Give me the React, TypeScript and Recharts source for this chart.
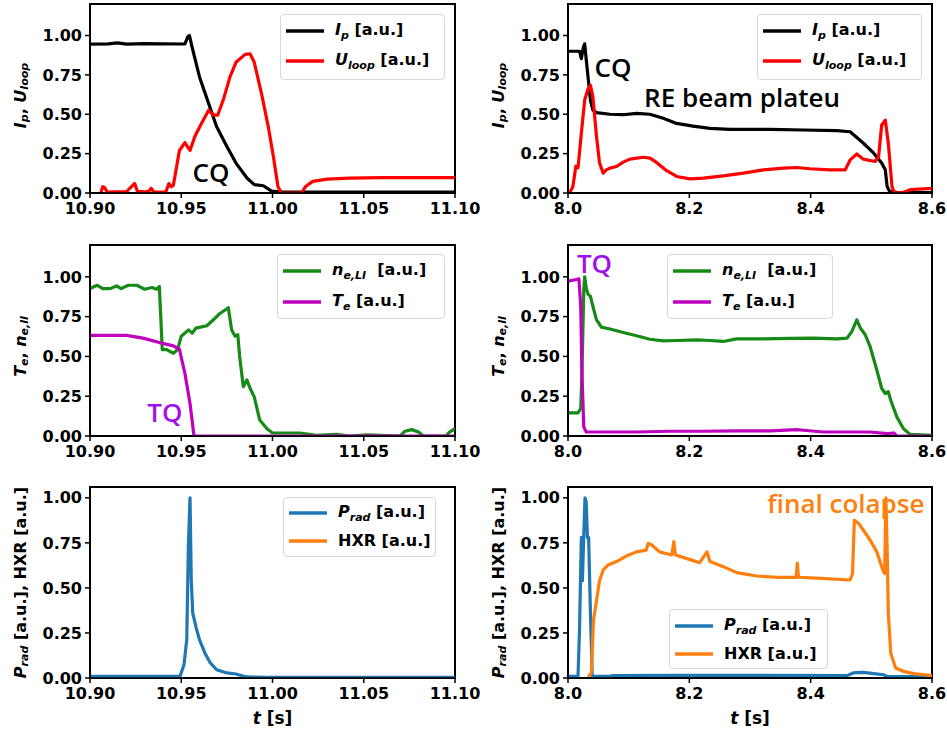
import React from 'react';
import { LineChart, Line, XAxis, YAxis, Legend, ReferenceArea, ReferenceDot } from 'recharts';

// ---------------- data ----------------
// Panel A (left column, t = 10.90 .. 11.10)
const ipT_A = [10.900, 10.910, 10.915, 10.920, 10.930, 10.940, 10.952, 10.9535, 10.9545, 10.9557, 10.960, 10.965, 10.9694, 10.975, 10.980, 10.986, 10.990, 10.995, 10.9995, 11.006, 11.050, 11.100];
const ipV_A = [0.945, 0.947, 0.953, 0.945, 0.948, 0.947, 0.946, 0.99, 1.0, 0.937, 0.737, 0.568, 0.421, 0.295, 0.19, 0.095, 0.053, 0.046, 0.012, 0.005, 0.005, 0.005];
const ulT_A = [10.906, 10.907, 10.908, 10.9095, 10.915, 10.920, 10.9235, 10.9245, 10.926, 10.930, 10.932, 10.9335, 10.935, 10.9415, 10.9432, 10.9445, 10.9457, 10.949, 10.952, 10.9548, 10.9575, 10.961, 10.965, 10.9676, 10.970, 10.973, 10.9767, 10.980, 10.985, 10.9877, 10.990, 10.994, 10.9977, 11.0005, 11.003, 11.005, 11.016, 11.018, 11.022, 11.030, 11.042, 11.060, 11.100];
const ulV_A = [0.005, 0.04, 0.035, 0.005, 0.008, 0.008, 0.05, 0.06, 0.01, 0.008, 0.01, 0.03, 0.005, 0.005, 0.06, 0.04, 0.05, 0.27, 0.32, 0.27, 0.36, 0.44, 0.526, 0.495, 0.495, 0.59, 0.737, 0.83, 0.88, 0.884, 0.83, 0.63, 0.42, 0.23, 0.04, 0, 0, 0.04, 0.074, 0.088, 0.095, 0.097, 0.097];
const neT_A = [10.900, 10.904, 10.907, 10.911, 10.9146, 10.917, 10.921, 10.9256, 10.930, 10.934, 10.9365, 10.938, 10.9396, 10.942, 10.9457, 10.948, 10.950, 10.954, 10.956, 10.958, 10.964, 10.9676, 10.971, 10.9758, 10.9776, 10.9795, 10.981, 10.982, 10.984, 10.986, 10.9877, 10.990, 10.993, 10.997, 11.000, 11.015, 11.024, 11.035, 11.042, 11.052, 11.070, 11.0726, 11.0763, 11.080, 11.0826, 11.095, 11.097, 11.100];
const neV_A = [0.926, 0.947, 0.926, 0.926, 0.943, 0.926, 0.947, 0.947, 0.922, 0.933, 0.922, 0.94, 0.543, 0.543, 0.52, 0.543, 0.627, 0.667, 0.646, 0.678, 0.693, 0.73, 0.768, 0.806, 0.668, 0.627, 0.636, 0.5, 0.31, 0.352, 0.3, 0.246, 0.1, 0.046, 0.019, 0.019, 0.004, 0.01, 0, 0.008, 0, 0.03, 0.04, 0.025, 0, 0, 0.025, 0.046];
const teT_A = [10.900, 10.920, 10.929, 10.938, 10.9457, 10.949, 10.952, 10.9548, 10.957, 11.100];
const teV_A = [0.632, 0.632, 0.615, 0.587, 0.566, 0.545, 0.394, 0.204, 0, 0];
const prT_A = [10.900, 10.9493, 10.9515, 10.953, 10.9539, 10.9548, 10.9555, 10.9563, 10.958, 10.960, 10.963, 10.9657, 10.9694, 10.975, 10.980, 10.9858, 10.997, 11.100];
const prV_A = [0.009, 0.009, 0.074, 0.21, 0.73, 1.0, 0.54, 0.36, 0.286, 0.212, 0.138, 0.087, 0.046, 0.028, 0.022, 0.006, 0.004, 0.004];

// Panel B (right column, t = 8.0 .. 8.6)
const ipT_B = [8.000, 8.010, 8.019, 8.022, 8.025, 8.0275, 8.030, 8.033, 8.037, 8.041, 8.047, 8.069, 8.091, 8.113, 8.135, 8.157, 8.179, 8.206, 8.234, 8.267, 8.333, 8.388, 8.443, 8.465, 8.487, 8.504, 8.517, 8.523, 8.526, 8.530, 8.542, 8.600];
const ipV_B = [0.90, 0.90, 0.90, 0.853, 0.92, 0.947, 0.85, 0.737, 0.59, 0.526, 0.51, 0.50, 0.497, 0.505, 0.50, 0.474, 0.442, 0.425, 0.41, 0.404, 0.404, 0.40, 0.396, 0.389, 0.316, 0.253, 0.19, 0.147, 0.042, 0.01, 0.004, 0.003];
const ulT_B = [8.000, 8.003, 8.008, 8.013, 8.0165, 8.022, 8.0275, 8.033, 8.037, 8.041, 8.047, 8.052, 8.058, 8.063, 8.069, 8.080, 8.091, 8.102, 8.124, 8.135, 8.146, 8.162, 8.179, 8.201, 8.223, 8.256, 8.289, 8.322, 8.355, 8.377, 8.399, 8.432, 8.457, 8.465, 8.476, 8.487, 8.506, 8.512, 8.517, 8.523, 8.528, 8.534, 8.538, 8.553, 8.564, 8.600];
const ulV_B = [0.01, 0.004, 0.04, 0.17, 0.16, 0.38, 0.59, 0.66, 0.684, 0.61, 0.358, 0.19, 0.126, 0.147, 0.158, 0.168, 0.196, 0.215, 0.227, 0.221, 0.194, 0.143, 0.105, 0.09, 0.095, 0.109, 0.126, 0.147, 0.158, 0.162, 0.154, 0.147, 0.147, 0.21, 0.248, 0.215, 0.2, 0.23, 0.43, 0.463, 0.316, 0.042, 0, 0.004, 0.021, 0.03];
const neT_B = [8.000, 8.0165, 8.021, 8.023, 8.026, 8.0275, 8.030, 8.033, 8.037, 8.041, 8.047, 8.055, 8.069, 8.091, 8.113, 8.135, 8.157, 8.179, 8.212, 8.234, 8.256, 8.278, 8.322, 8.366, 8.405, 8.443, 8.460, 8.468, 8.476, 8.482, 8.490, 8.498, 8.509, 8.517, 8.523, 8.528, 8.532, 8.542, 8.553, 8.564, 8.600];
const neV_B = [0.145, 0.145, 0.173, 0.394, 0.92, 1.0, 0.93, 0.89, 0.878, 0.815, 0.73, 0.684, 0.672, 0.65, 0.63, 0.608, 0.598, 0.6, 0.604, 0.6, 0.594, 0.61, 0.61, 0.613, 0.615, 0.61, 0.615, 0.657, 0.73, 0.678, 0.636, 0.562, 0.415, 0.3, 0.267, 0.278, 0.225, 0.12, 0.046, 0.01, 0.004];
const teT_B = [8.000, 8.014, 8.018, 8.021, 8.023, 8.026, 8.030, 8.058, 8.113, 8.168, 8.223, 8.278, 8.333, 8.377, 8.388, 8.421, 8.498, 8.526, 8.537, 8.542, 8.600];
const teV_B = [0.973, 0.983, 0.987, 0.815, 0.394, 0.057, 0.025, 0.025, 0.025, 0.03, 0.03, 0.032, 0.032, 0.04, 0.036, 0.025, 0.025, 0.015, 0.019, 0, 0];
const prT_B = [8.000, 8.0165, 8.019, 8.022, 8.0237, 8.026, 8.028, 8.030, 8.032, 8.034, 8.037, 8.040, 8.069, 8.074, 8.168, 8.333, 8.460, 8.470, 8.487, 8.504, 8.520, 8.526, 8.600];
const prV_B = [0.009, 0.009, 0.27, 0.78, 0.54, 0.79, 1.0, 0.98, 0.78, 0.78, 0.36, 0.009, 0.009, 0.013, 0.015, 0.015, 0.013, 0.028, 0.031, 0.024, 0.018, 0.009, 0.006];
const hxT_B = [8.033, 8.0385, 8.042, 8.047, 8.052, 8.058, 8.066, 8.080, 8.096, 8.113, 8.129, 8.132, 8.138, 8.151, 8.171, 8.1745, 8.177, 8.195, 8.217, 8.229, 8.234, 8.256, 8.278, 8.311, 8.344, 8.376, 8.378, 8.380, 8.410, 8.443, 8.465, 8.469, 8.472, 8.479, 8.487, 8.498, 8.509, 8.520, 8.522, 8.524, 8.526, 8.528, 8.532, 8.540, 8.553, 8.570, 8.600];
const hxV_B = [0.006, 0.028, 0.32, 0.43, 0.54, 0.6, 0.627, 0.646, 0.677, 0.70, 0.71, 0.747, 0.738, 0.70, 0.683, 0.757, 0.683, 0.664, 0.64, 0.70, 0.646, 0.618, 0.585, 0.566, 0.559, 0.559, 0.637, 0.559, 0.554, 0.548, 0.544, 0.58, 0.876, 0.858, 0.82, 0.766, 0.70, 0.59, 0.58, 1.0, 0.73, 0.36, 0.138, 0.055, 0.037, 0.024, 0.013];

const xTicksA = [10.9, 10.95, 11.0, 11.05, 11.1];
const xTicksB = [8.0, 8.2, 8.4, 8.6];
const yTicks = [0, 0.25, 0.5, 0.75, 1.0];

// ---------------- styles ----------------
const C = {
  ip: '#000000',
  ul: '#ff0000',
  ne: '#168a16',
  te: '#bf00bf',
  pr: '#1f77b4',
  hx: '#ff7f0e',
  tq: '#a010ee',
};
const FONT = 'DejaVu Sans';
const ANN_FONT = '"Open Sans", "Noto Sans", sans-serif';

const pts = (t: number[], v: number[]) => t.map((x, i) => ({ t: x, v: v[i] }));

type Series = { name: string; t: number[]; v: number[]; color: string };
type LegendItem = { color: string; label: React.ReactNode };
type Note = { x: number; y: number; text: string; color: string; size: number };

const Sub = ({ children }: { children: React.ReactNode }) => (
  <span style={{ fontSize: 11, fontStyle: 'italic', position: 'relative', top: 4 }}>{children}</span>
);
const It = ({ children }: { children: React.ReactNode }) => <span style={{ fontStyle: 'italic' }}>{children}</span>;

function LegendBox({ items, width, height, rowH, firstY }: { items: LegendItem[]; width: number; height: number; rowH: number; firstY: number }) {
  return (
    <div
      style={{
        width,
        height,
        boxSizing: 'border-box',
        border: '1px solid #d8d8d8',
        borderRadius: 4,
        background: 'rgba(255,255,255,0.85)',
        position: 'relative',
        fontFamily: FONT,
        fontWeight: 'bold',
        fontSize: 16,
        color: '#000',
      }}
    >
      {items.map((it, i) => (
        <div
          key={i}
          style={{ position: 'absolute', left: 0, top: firstY + i * rowH - 12, height: 24, display: 'flex', alignItems: 'center', whiteSpace: 'nowrap' }}
        >
          <svg width={54} height={24} style={{ flex: 'none' }}>
            <line x1={5} x2={43} y1={12} y2={12} stroke={it.color} strokeWidth={3.5} />
          </svg>
          <span style={{ lineHeight: '24px' }}>{it.label}</span>
        </div>
      ))}
    </div>
  );
}

type YPart = { s: string; it?: boolean; sub?: boolean };

function YLab({ viewBox, parts, dyAdj }: { viewBox?: any; parts: YPart[]; dyAdj: number }) {
  if (!viewBox) return null;
  const cx = viewBox.x - 10;
  const cy = viewBox.y + viewBox.height / 2 + dyAdj;
  let shifted = false;
  return (
    <text
      x={cx}
      y={cy}
      transform={`rotate(-90, ${cx}, ${cy})`}
      textAnchor="middle"
      dominantBaseline="central"
      fontFamily={FONT}
      fontWeight="bold"
      fontSize={16}
      fill="#000"
    >
      {parts.map((p, i) => {
        let dy = 0;
        if (p.sub && !shifted) { dy = 4; shifted = true; }
        else if (!p.sub && shifted) { dy = -4; shifted = false; }
        return (
          <tspan key={i} dy={dy} fontStyle={p.it ? 'italic' : 'normal'} fontSize={p.sub ? 11 : 16}>
            {p.s}
          </tspan>
        );
      })}
    </text>
  );
}

function XLab({ viewBox }: { viewBox?: any }) {
  if (!viewBox) return null;
  const cx = viewBox.x + viewBox.width / 2;
  const cy = viewBox.y + 40;
  return (
    <text x={cx} y={cy} textAnchor="middle" dominantBaseline="central" fontFamily={FONT} fontWeight="bold" fontSize={17} fill="#000">
      <tspan fontStyle="italic">t</tspan>
      <tspan> [s]</tspan>
    </text>
  );
}

type PanelProps = {
  x: number; y: number; w: number; h: number;
  margin: { top: number; right: number; bottom: number; left: number };
  xH: number;
  xDomain: [number, number];
  xTicks: number[];
  xDec: number;
  yMax: number;
  series: Series[];
  legend: { x: number; y: number; w: number; h: number; rowH: number; firstY: number; items: LegendItem[] };
  yParts: YPart[];
  yAdj: number;
  xLabel?: boolean;
  notes?: Note[];
};

const tickStyle = { fill: '#000', fontSize: 16, fontWeight: 'bold', fontFamily: FONT } as any;

function Panel(p: PanelProps) {
  return (
    <div style={{ position: 'absolute', left: p.x, top: p.y }}>
      <LineChart width={p.w} height={p.h} margin={p.margin}>
        <XAxis
          type="number"
          dataKey="t"
          domain={p.xDomain}
          ticks={p.xTicks}
          interval={0}
          allowDataOverflow
          height={p.xH}
          tick={tickStyle}
          tickSize={5}
          tickMargin={5}
          tickFormatter={(v: number) => v.toFixed(p.xDec)}
          axisLine={{ stroke: '#000', strokeWidth: 1.5 }}
          tickLine={{ stroke: '#000', strokeWidth: 1.5 }}
          label={p.xLabel ? { content: (lp: any) => <XLab viewBox={lp.viewBox} /> } : undefined}
        />
        <YAxis
          type="number"
          domain={[0, p.yMax]}
          ticks={yTicks}
          interval={0}
          allowDataOverflow
          width={60}
          tick={tickStyle}
          tickSize={5}
          tickMargin={3}
          tickFormatter={(v: number) => v.toFixed(2)}
          axisLine={{ stroke: '#000', strokeWidth: 1.5 }}
          tickLine={{ stroke: '#000', strokeWidth: 1.5 }}
          label={{ content: (lp: any) => <YLab viewBox={lp.viewBox} parts={p.yParts} dyAdj={p.yAdj} /> }}
        />
        <ReferenceArea
          x1={p.xDomain[0]}
          x2={p.xDomain[1]}
          y1={0}
          y2={p.yMax}
          fill="none"
          fillOpacity={0}
          stroke="#000"
          strokeWidth={2}
          ifOverflow="visible"
        />
        {p.series.map((s) => (
          <Line
            key={s.name}
            data={pts(s.t, s.v)}
            dataKey="v"
            name={s.name}
            type="linear"
            stroke={s.color}
            strokeWidth={3.2}
            dot={false}
            activeDot={false}
            isAnimationActive={false}
            strokeLinejoin="round"
          />
        ))}
        {(p.notes || []).map((n, i) => (
          <ReferenceDot
            key={i}
            x={n.x}
            y={n.y}
            r={0}
            ifOverflow="visible"
            shape={(sp: any) => (
              <text
                x={sp.cx}
                y={sp.cy}
                textAnchor="middle"
                dominantBaseline="central"
                fontFamily={ANN_FONT}
                fontWeight={600}
                fontSize={n.size}
                fill={n.color}
              >
                {n.text}
              </text>
            )}
          />
        ))}
        <Legend
          layout="vertical"
          align="center"
          verticalAlign="middle"
          wrapperStyle={{ left: p.legend.x, top: p.legend.y, width: p.legend.w, height: p.legend.h, margin: 0, padding: 0 }}
          content={() => (
            <LegendBox items={p.legend.items} width={p.legend.w} height={p.legend.h} rowH={p.legend.rowH} firstY={p.legend.firstY} />
          )}
        />
      </LineChart>
    </div>
  );
}

// layout constants
const LX = 0, LW = 480, LM = { left: 30, right: 25 };
const RX = 480, RW = 467, RM = { left: 28, right: 15 };
const ROW1 = { y: 0, h: 240, top: 4, bottom: 17, xH: 30 };
const ROW2 = { y: 240, h: 245, top: 5, bottom: 19, xH: 30 };
const ROW3 = { y: 480, h: 253, top: 7, bottom: 5, xH: 50 };

const ipLabel = <><It>I</It><Sub>p</Sub> [a.u.]</>;
const ulLabel = <><It>U</It><Sub>loop</Sub> [a.u.]</>;
const neLabel = <><It>n</It><Sub>e,LI</Sub>{'\u00a0\u00a0'}[a.u.]</>;
const teLabel = <><It>T</It><Sub>e</Sub> [a.u.]</>;
const prLabel = <><It>P</It><Sub>rad</Sub> [a.u.]</>;
const hxLabel = <>HXR [a.u.]</>;

const yParts1: YPart[] = [{ s: 'I', it: true }, { s: 'p', it: true, sub: true }, { s: ', ' }, { s: 'U', it: true }, { s: 'loop', it: true, sub: true }];
const yParts2: YPart[] = [{ s: 'T', it: true }, { s: 'e', it: true, sub: true }, { s: ', ' }, { s: 'n', it: true }, { s: 'e,ll', it: true, sub: true }];
const yParts3: YPart[] = [{ s: 'P', it: true }, { s: 'rad', it: true, sub: true }, { s: ' [a.u.], HXR [a.u.]' }];

export default function App() {
  return (
    <div style={{ position: 'absolute', left: 0, top: 0, width: 947, height: 733, background: '#fff', overflow: 'hidden' }}>
      {/* Row 1 */}
      <Panel
        x={LX} y={ROW1.y} w={LW} h={ROW1.h}
        margin={{ top: ROW1.top, bottom: ROW1.bottom, ...LM }}
        xH={ROW1.xH} xDomain={[10.9, 11.1]} xTicks={xTicksA} xDec={2} yMax={1.2}
        series={[
          { name: 'ip', t: ipT_A, v: ipV_A, color: C.ip },
          { name: 'ul', t: ulT_A, v: ulV_A, color: C.ul },
        ]}
        legend={{ x: 280, y: 14, w: 165, h: 66, rowH: 30, firstY: 16, items: [{ color: C.ip, label: ipLabel }, { color: C.ul, label: ulLabel }] }}
        yParts={yParts1} yAdj={-3}
        notes={[{ x: 10.9663, y: 0.133, text: 'CQ', color: '#000', size: 26 }]}
      />
      <Panel
        x={RX} y={ROW1.y} w={RW} h={ROW1.h}
        margin={{ top: ROW1.top, bottom: ROW1.bottom, ...RM }}
        xH={ROW1.xH} xDomain={[8.0, 8.6]} xTicks={xTicksB} xDec={1} yMax={1.2}
        series={[
          { name: 'ip', t: ipT_B, v: ipV_B, color: C.ip },
          { name: 'ul', t: ulT_B, v: ulV_B, color: C.ul },
        ]}
        legend={{ x: 277, y: 14, w: 165, h: 66, rowH: 30, firstY: 16, items: [{ color: C.ip, label: ipLabel }, { color: C.ul, label: ulLabel }] }}
        yParts={yParts1} yAdj={-3}
        notes={[
          { x: 8.074, y: 0.8, text: 'CQ', color: '#000', size: 26 },
          { x: 8.287, y: 0.607, text: 'RE beam plateu', color: '#000', size: 26 },
        ]}
      />
      {/* Row 2 */}
      <Panel
        x={LX} y={ROW2.y} w={LW} h={ROW2.h}
        margin={{ top: ROW2.top, bottom: ROW2.bottom, ...LM }}
        xH={ROW2.xH} xDomain={[10.9, 11.1]} xTicks={xTicksA} xDec={2} yMax={1.2}
        series={[
          { name: 'ne', t: neT_A, v: neV_A, color: C.ne },
          { name: 'te', t: teT_A, v: teV_A, color: C.te },
        ]}
        legend={{ x: 277, y: 14, w: 168, h: 65, rowH: 31, firstY: 16, items: [{ color: C.ne, label: neLabel }, { color: C.te, label: teLabel }] }}
        yParts={yParts2} yAdj={6}
        notes={[{ x: 10.941, y: 0.151, text: 'TQ', color: C.tq, size: 26 }]}
      />
      <Panel
        x={RX} y={ROW2.y} w={RW} h={ROW2.h}
        margin={{ top: ROW2.top, bottom: ROW2.bottom, ...RM }}
        xH={ROW2.xH} xDomain={[8.0, 8.6]} xTicks={xTicksB} xDec={1} yMax={1.2}
        series={[
          { name: 'ne', t: neT_B, v: neV_B, color: C.ne },
          { name: 'te', t: teT_B, v: teV_B, color: C.te },
        ]}
        legend={{ x: 187, y: 14, w: 166, h: 65, rowH: 31, firstY: 16, items: [{ color: C.ne, label: neLabel }, { color: C.te, label: teLabel }] }}
        yParts={yParts2} yAdj={6}
        notes={[{ x: 8.0437, y: 1.088, text: 'TQ', color: C.tq, size: 26 }]}
      />
      {/* Row 3 */}
      <Panel
        x={LX} y={ROW3.y} w={LW} h={ROW3.h}
        margin={{ top: ROW3.top, bottom: ROW3.bottom, ...LM }}
        xH={ROW3.xH} xDomain={[10.9, 11.1]} xTicks={xTicksA} xDec={2} yMax={1.06}
        series={[{ name: 'pr', t: prT_A, v: prV_A, color: C.pr }]}
        legend={{ x: 283, y: 17, w: 153, h: 60, rowH: 28, firstY: 15, items: [{ color: C.pr, label: prLabel }, { color: C.hx, label: hxLabel }] }}
        yParts={yParts3} yAdj={0}
        xLabel
      />
      <Panel
        x={RX} y={ROW3.y} w={RW} h={ROW3.h}
        margin={{ top: ROW3.top, bottom: ROW3.bottom, ...RM }}
        xH={ROW3.xH} xDomain={[8.0, 8.6]} xTicks={xTicksB} xDec={1} yMax={1.06}
        series={[
          { name: 'pr', t: prT_B, v: prV_B, color: C.pr },
          { name: 'hx', t: hxT_B, v: hxV_B, color: C.hx },
        ]}
        legend={{ x: 189, y: 129, w: 159, h: 60, rowH: 28, firstY: 16, items: [{ color: C.pr, label: prLabel }, { color: C.hx, label: hxLabel }] }}
        yParts={yParts3} yAdj={0}
        xLabel
        notes={[{ x: 8.458, y: 0.971, text: 'final colapse', color: C.hx, size: 26 }]}
      />
    </div>
  );
}
